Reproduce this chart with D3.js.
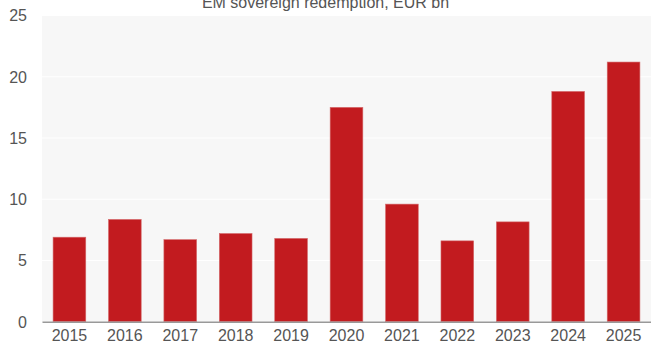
<!DOCTYPE html>
<html><head><meta charset="utf-8">
<script src="https://cdn.jsdelivr.net/npm/d3@7"></script>
<style>body{margin:0;background:#fff;}svg{display:block;font-family:"Liberation Sans",Arial,sans-serif;}</style>
</head><body>
<svg id="c" width="651" height="343"></svg>
<script>
const years = ["2015","2016","2017","2018","2019","2020","2021","2022","2023","2024","2025"];
const redemption = [6.9, 8.35, 6.7, 7.2, 6.8, 17.5, 9.6, 6.6, 8.15, 18.8, 21.2];
const yTicks = [0, 5, 10, 15, 20, 25];
const title = "EM sovereign redemption, EUR bn";

const svg = d3.select("#c");
const m = {l: 42, r: 0, t: 15.5, b: 21.3};
const W = 651, H = 343;
const x = d3.scaleBand().domain(years).range([m.l, W - m.r]).paddingInner(0.41).paddingOuter(0.2);
const y = d3.scaleLinear().domain([0, 25]).range([H - m.b, m.t]);

svg.append("rect").attr("x", m.l).attr("y", y(25)).attr("width", W - m.l - m.r).attr("height", y(0) - y(25)).attr("fill", "#f7f7f7");

svg.append("g").selectAll("line").data(yTicks.filter(d => d > 0)).join("line")
  .attr("x1", m.l).attr("x2", W - m.r).attr("y1", d => y(d)).attr("y2", d => y(d))
  .attr("stroke", "#ffffff").attr("stroke-width", 1);

svg.append("g").selectAll("rect").data(years).join("rect")
  .attr("x", d => x(d)).attr("width", x.bandwidth())
  .attr("y", (d, i) => y(redemption[i])).attr("height", (d, i) => y(0) - y(redemption[i]))
  .attr("fill", "#c21b1f").attr("stroke", "#d46a6c").attr("stroke-width", 0.6);

const ya = svg.append("g").attr("transform", `translate(${m.l},0)`)
  .call(d3.axisLeft(y).tickValues(yTicks).tickSize(0).tickPadding(15));
ya.select(".domain").remove();
ya.selectAll("text").attr("font-size", 16).attr("fill", "#555").attr("font-family", "Liberation Sans, Arial, sans-serif").attr("dy", "0.34em");

const xa = svg.append("g").attr("transform", `translate(0,${y(0)})`)
  .call(d3.axisBottom(x).tickSize(0).tickPadding(8));
xa.select(".domain").attr("stroke", "#999").attr("stroke-width", 1.5);
xa.selectAll("text").attr("font-size", 16).attr("fill", "#555").attr("font-family", "Liberation Sans, Arial, sans-serif");

svg.append("text").attr("x", W / 2).attr("y", 8).attr("text-anchor", "middle")
  .attr("font-size", 16).attr("fill", "#555").text(title);
</script>
</body></html>
